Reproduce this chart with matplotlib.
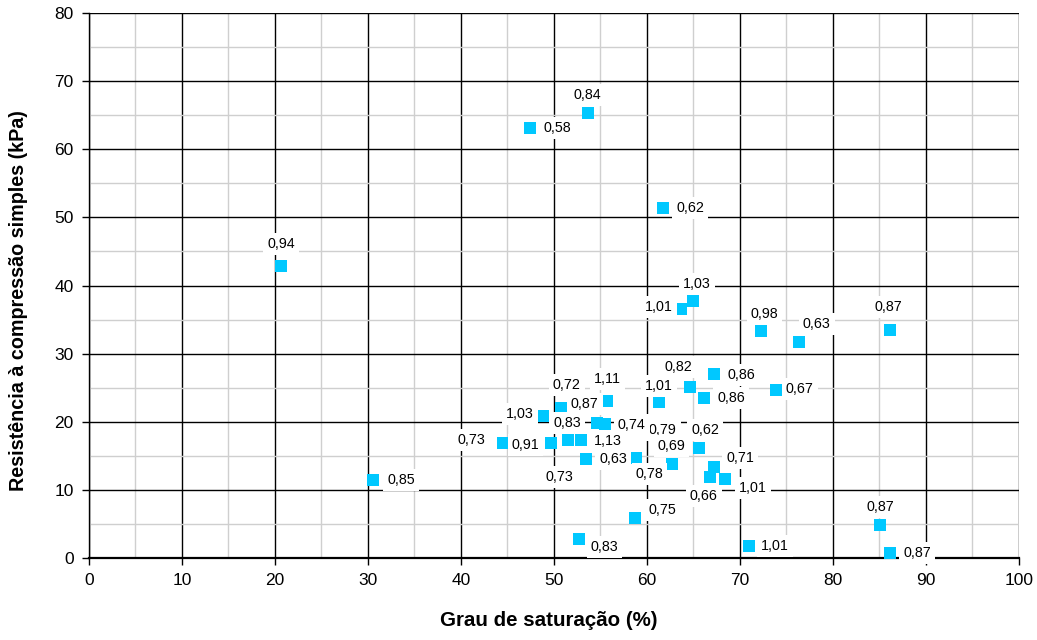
import matplotlib
matplotlib.use("Agg")
import matplotlib.pyplot as plt
from matplotlib.ticker import MultipleLocator

plt.rcParams['font.family'] = ['Liberation Sans', 'DejaVu Sans']

# Degree of saturation (%) and unconfined compressive strength (kPa)
saturacao = [20.65, 30.54, 47.42, 53.66, 61.72, 63.66, 64.95, 72.30, 76.34, 86.16,
             85.02, 86.13, 52.65, 58.71, 71.00,
             48.85, 50.72, 50.72, 55.73, 61.32, 64.66, 67.20, 66.13, 73.84,
             54.59, 55.45, 44.48, 49.64, 51.50, 52.87, 53.44, 53.44, 58.78,
             65.62, 62.65, 67.24, 66.77, 68.39]
resistencia = [42.86, 11.45, 63.12, 65.37, 51.38, 36.60, 37.73, 33.36, 31.75, 33.47,
               4.84, 0.78, 2.74, 5.83, 1.76,
               20.89, 22.06, 22.06, 23.05, 22.86, 25.10, 27.00, 23.44, 24.66,
               19.77, 19.63, 16.93, 16.88, 17.32, 17.32, 14.49, 14.49, 14.72,
               16.19, 13.80, 13.31, 11.85, 11.55]
rotulos = ["0,94", "0,85", "0,58", "0,84", "0,62", "1,01", "1,03", "0,98", "0,63", "0,87",
           "0,87", "0,87", "0,83", "0,75", "1,01",
           "1,03", "0,87", "0,72", "1,11", "1,01", "0,82", "0,86", "0,86", "0,67",
           "0,79", "0,74", "0,73", "0,91", "0,83", "1,13", "0,63", "0,73", "0,78",
           "0,62", "0,69", "0,71", "0,66", "1,01"]

# Label placement relative to each marker (pixels)
deslocamentos = [(0, 22), (28, 0), (27, 0), (-1, 18), (27, 0), (-22, 2), (4, 17), (3, 17), (18, 18), (-2, 23),
                 (1, 18), (27, 0), (26, -8), (27, 8), (26, 0),
                 (-23, 2), (24, 4), (6, 23), (0, 22), (0, 16), (-12, 20), (27, -1), (27, 0), (24, 1),
                 (66, -7), (27, -1), (-31, 3), (-25, -2), (-1, 17), (27, -1), (27, 0), (-27, -18), (14, -16),
                 (6, 18), (0, 18), (26, 9), (-6, -19), (28, -9)]

x_ticks = list(range(0, 101, 10))
y_ticks = list(range(0, 81, 10))

fig = plt.figure(figsize=(10.37, 6.40), dpi=100)
ax = fig.add_axes([0.0858, 0.128, 0.8968, 0.8517])

ax.set_xlim(0, 100)
ax.set_ylim(0, 80)
ax.xaxis.set_major_locator(MultipleLocator(10))
ax.xaxis.set_minor_locator(MultipleLocator(5))
ax.yaxis.set_major_locator(MultipleLocator(10))
ax.yaxis.set_minor_locator(MultipleLocator(5))
ax.set_xticks(x_ticks)
ax.set_yticks(y_ticks)

ax.grid(which='minor', color='#cfcfcf', linewidth=1.0, zorder=0)
ax.grid(which='major', color='black', linewidth=1.0, zorder=1)
ax.set_axisbelow(True)

for side in ['top', 'right']:
    ax.spines[side].set_visible(False)
ax.spines['left'].set_linewidth(1.0)
ax.spines['bottom'].set_linewidth(1.6)

ax.tick_params(which='major', direction='out', length=5, width=1, labelsize=12.5, pad=6)
ax.tick_params(which='minor', length=0)

ax.plot(saturacao, resistencia, linestyle='none', marker='s', markersize=8,
        color='#00C8FF', markeredgewidth=0, zorder=3, clip_on=False)

for xv, yv, txt, (dx, dy) in zip(saturacao, resistencia, rotulos, deslocamentos):
    ax.annotate(txt, (xv, yv), xytext=(dx, dy), textcoords='offset pixels',
                ha='center', va='center', fontsize=10.3, color='black', zorder=4,
                bbox=dict(boxstyle='square,pad=0.28', facecolor='white', edgecolor='none'))

ax.set_xlabel('Grau de saturação (%)', fontsize=14.8, fontweight='bold')
ax.set_ylabel('Resistência à compressão simples (kPa)', fontsize=14.2, fontweight='bold')
ax.xaxis.set_label_coords(0.4946, -0.098)
ax.yaxis.set_label_coords(-0.0656, 0.473)

fig.savefig('out.png', dpi=100)
